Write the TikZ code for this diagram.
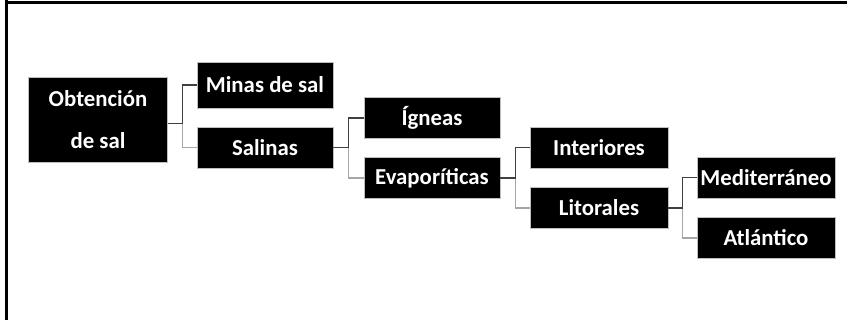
\documentclass[tikz,border=0pt]{standalone}
\usepackage{fontspec}
\setmainfont{Carlito}
\definecolor{lineDark}{HTML}{404040}
\definecolor{lineLight}{HTML}{A6A6A6}
\definecolor{boxEdge}{HTML}{BFBFBF}
\tikzset{
  box/.style={fill=black, draw=boxEdge, line width=0.6pt, text=white, inner sep=0pt,
    font=\bfseries\fontsize{22.8}{26}\selectfont, minimum width=136pt, minimum height=41pt, align=center},
  linkA/.style={draw=lineDark, line width=1.3pt},
  linkB/.style={draw=lineLight, line width=1.3pt},
  frameline/.style={draw=black, line width=3pt}
}
\begin{document}
\begin{tikzpicture}[x=1pt,y=-1pt]
\useasboundingbox (0,0) rectangle (847,320);
% frame
\coordinate (fTL) at (4.5,3);
\coordinate (fTR) at (847,3);
\coordinate (fBL) at (6,320);
\coordinate (fT0) at (6,0);
\draw[frameline] (fT0) -- (fBL);
\draw[frameline] (fTL) -- (fTR);
% nodes
\node[box, minimum width=139pt, minimum height=85pt, font=\bfseries\fontsize{22.8}{42}\selectfont] (obt) at (98,120) {Obtención\\de sal};
\node[box, minimum height=46pt] (minas) at (265,85) {Minas de sal};
\node[box] (sal) at (265,147.5) {Salinas};
\node[box] (ign) at (432,118) {Ígneas};
\node[box] (eva) at (432,178) {Evaporíticas};
\node[box, minimum width=138pt] (int) at (599,147.5) {Interiores};
\node[box, minimum width=138pt] (lit) at (599,208) {Litorales};
\node[box, minimum width=138pt] (med) at (766,177.5) {Mediterráneo};
\node[box, minimum width=138pt] (atl) at (766,238) {Atlántico};
% connectors (second child light, first child dark)
\draw[linkB] ([yshift=-3.5pt]obt.east) -- ++(15,0) |- (sal.west);
\draw[linkA] ([yshift=-3.5pt]obt.east) -- ++(15,0) |- (minas.west);
\draw[linkB] (sal.east) -- ++(15.5,0) |- (eva.west);
\draw[linkA] (sal.east) -- ++(15.5,0) |- (ign.west);
\draw[linkB] (eva.east) -- ++(15,0) |- (lit.west);
\draw[linkA] (eva.east) -- ++(15,0) |- (int.west);
\draw[linkB] (lit.east) -- ++(14.5,0) |- (atl.west);
\draw[linkA] (lit.east) -- ++(14.5,0) |- (med.west);
\end{tikzpicture}
\end{document}
